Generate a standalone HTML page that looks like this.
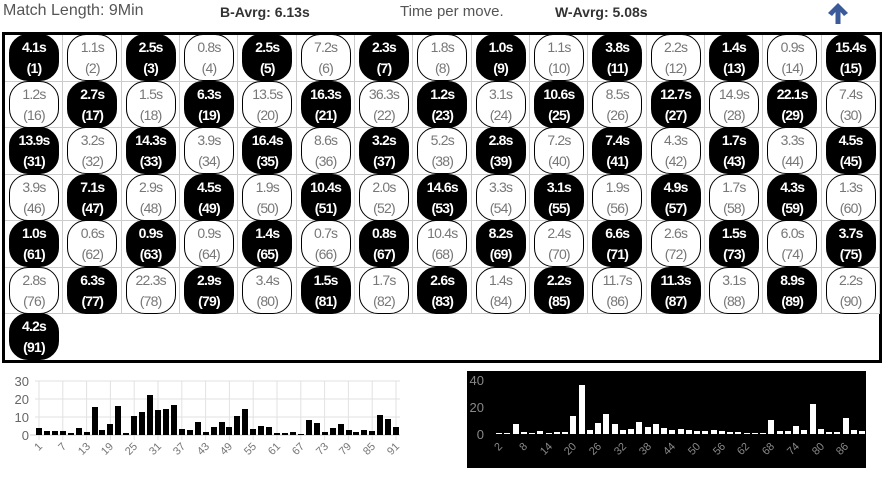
<!DOCTYPE html>
<html><head><meta charset="utf-8">
<style>
*{margin:0;padding:0;box-sizing:border-box}
body{width:888px;height:481px;background:#fff;position:relative;overflow:hidden;font-family:"Liberation Sans",sans-serif}
.h{position:absolute;top:3px;font-size:15px;color:#555;white-space:nowrap}
.hb{font-weight:bold;color:#333;font-size:14px;top:4px}
#box{position:absolute;left:2px;top:32px;width:880px;height:331px;border:3px solid #000}
#g{position:absolute;left:0;top:0;display:grid;grid-template-columns:repeat(15,58.33px);grid-auto-rows:46.5px}
.c{position:relative;border-right:1px solid #ccc;border-bottom:1px solid #ccc}
.c i{position:absolute;left:4px;top:-1px;width:50px;height:47px;border-radius:19px;border:1.3px solid #000;background:#fff;color:#777;font-style:normal;font-size:14px;line-height:21px;text-align:center;padding-top:2px;letter-spacing:-0.8px;z-index:1}
.c.b i{background:#000;color:#fff;font-weight:bold}
.bars{position:absolute;display:flex;align-items:flex-end}
.bars div{flex:1;display:flex;justify-content:center;align-items:flex-end}
.bars div:before{content:"";display:block;width:6px;height:calc(var(--v)*var(--s))}
#lb{left:35px;width:365px;bottom:46px;height:60px;--s:1.8px}
#lb div:before{background:#000}
#rb{left:495px;width:371px;bottom:47px;height:60px;--s:1.35px}
#rb div:before{background:#fff}
</style></head><body>
<div class="h" style="left:3px;font-size:16px;top:2px">Match Length: 9Min</div>
<div class="h hb" style="left:220px">B-Avrg: 6.13s</div>
<div class="h" style="left:400px">Time per move.</div>
<div class="h hb" style="left:555px">W-Avrg: 5.08s</div>
<svg style="position:absolute;left:824px;top:1px" width="28" height="24"><path d="M14 2 L24 12 L20 15 L16.5 11 L16.5 23 L11.5 23 L11.5 11 L8 15 L4 12 Z" fill="#3a5a9a"/></svg>
<div id="box"><div id="g">
<div class="c b"><i>4.1s<br>(1)</i></div><div class="c"><i>1.1s<br>(2)</i></div><div class="c b"><i>2.5s<br>(3)</i></div><div class="c"><i>0.8s<br>(4)</i></div><div class="c b"><i>2.5s<br>(5)</i></div><div class="c"><i>7.2s<br>(6)</i></div><div class="c b"><i>2.3s<br>(7)</i></div><div class="c"><i>1.8s<br>(8)</i></div><div class="c b"><i>1.0s<br>(9)</i></div><div class="c"><i>1.1s<br>(10)</i></div><div class="c b"><i>3.8s<br>(11)</i></div><div class="c"><i>2.2s<br>(12)</i></div><div class="c b"><i>1.4s<br>(13)</i></div><div class="c"><i>0.9s<br>(14)</i></div><div class="c b"><i>15.4s<br>(15)</i></div>
<div class="c"><i>1.2s<br>(16)</i></div><div class="c b"><i>2.7s<br>(17)</i></div><div class="c"><i>1.5s<br>(18)</i></div><div class="c b"><i>6.3s<br>(19)</i></div><div class="c"><i>13.5s<br>(20)</i></div><div class="c b"><i>16.3s<br>(21)</i></div><div class="c"><i>36.3s<br>(22)</i></div><div class="c b"><i>1.2s<br>(23)</i></div><div class="c"><i>3.1s<br>(24)</i></div><div class="c b"><i>10.6s<br>(25)</i></div><div class="c"><i>8.5s<br>(26)</i></div><div class="c b"><i>12.7s<br>(27)</i></div><div class="c"><i>14.9s<br>(28)</i></div><div class="c b"><i>22.1s<br>(29)</i></div><div class="c"><i>7.4s<br>(30)</i></div>
<div class="c b"><i>13.9s<br>(31)</i></div><div class="c"><i>3.2s<br>(32)</i></div><div class="c b"><i>14.3s<br>(33)</i></div><div class="c"><i>3.9s<br>(34)</i></div><div class="c b"><i>16.4s<br>(35)</i></div><div class="c"><i>8.6s<br>(36)</i></div><div class="c b"><i>3.2s<br>(37)</i></div><div class="c"><i>5.2s<br>(38)</i></div><div class="c b"><i>2.8s<br>(39)</i></div><div class="c"><i>7.2s<br>(40)</i></div><div class="c b"><i>7.4s<br>(41)</i></div><div class="c"><i>4.3s<br>(42)</i></div><div class="c b"><i>1.7s<br>(43)</i></div><div class="c"><i>3.3s<br>(44)</i></div><div class="c b"><i>4.5s<br>(45)</i></div>
<div class="c"><i>3.9s<br>(46)</i></div><div class="c b"><i>7.1s<br>(47)</i></div><div class="c"><i>2.9s<br>(48)</i></div><div class="c b"><i>4.5s<br>(49)</i></div><div class="c"><i>1.9s<br>(50)</i></div><div class="c b"><i>10.4s<br>(51)</i></div><div class="c"><i>2.0s<br>(52)</i></div><div class="c b"><i>14.6s<br>(53)</i></div><div class="c"><i>3.3s<br>(54)</i></div><div class="c b"><i>3.1s<br>(55)</i></div><div class="c"><i>1.9s<br>(56)</i></div><div class="c b"><i>4.9s<br>(57)</i></div><div class="c"><i>1.7s<br>(58)</i></div><div class="c b"><i>4.3s<br>(59)</i></div><div class="c"><i>1.3s<br>(60)</i></div>
<div class="c b"><i>1.0s<br>(61)</i></div><div class="c"><i>0.6s<br>(62)</i></div><div class="c b"><i>0.9s<br>(63)</i></div><div class="c"><i>0.9s<br>(64)</i></div><div class="c b"><i>1.4s<br>(65)</i></div><div class="c"><i>0.7s<br>(66)</i></div><div class="c b"><i>0.8s<br>(67)</i></div><div class="c"><i>10.4s<br>(68)</i></div><div class="c b"><i>8.2s<br>(69)</i></div><div class="c"><i>2.4s<br>(70)</i></div><div class="c b"><i>6.6s<br>(71)</i></div><div class="c"><i>2.6s<br>(72)</i></div><div class="c b"><i>1.5s<br>(73)</i></div><div class="c"><i>6.0s<br>(74)</i></div><div class="c b"><i>3.7s<br>(75)</i></div>
<div class="c"><i>2.8s<br>(76)</i></div><div class="c b"><i>6.3s<br>(77)</i></div><div class="c"><i>22.3s<br>(78)</i></div><div class="c b"><i>2.9s<br>(79)</i></div><div class="c"><i>3.4s<br>(80)</i></div><div class="c b"><i>1.5s<br>(81)</i></div><div class="c"><i>1.7s<br>(82)</i></div><div class="c b"><i>2.6s<br>(83)</i></div><div class="c"><i>1.4s<br>(84)</i></div><div class="c b"><i>2.2s<br>(85)</i></div><div class="c"><i>11.7s<br>(86)</i></div><div class="c b"><i>11.3s<br>(87)</i></div><div class="c"><i>3.1s<br>(88)</i></div><div class="c b"><i>8.9s<br>(89)</i></div><div class="c"><i>2.2s<br>(90)</i></div>
<div class="c b" style="border:none"><i>4.2s<br>(91)</i></div>
</div></div>

<svg style="position:absolute;left:0;top:365px" width="888" height="116">
<g stroke="#e2e2e2" stroke-width="1">
<line x1="35" y1="16" x2="400" y2="16"/><line x1="35" y1="34" x2="400" y2="34"/><line x1="35" y1="52" x2="400" y2="52"/>
<line x1="39" y1="16" x2="39" y2="75"/><line x1="62.8" y1="16" x2="62.8" y2="75"/><line x1="86.6" y1="16" x2="86.6" y2="75"/><line x1="110.4" y1="16" x2="110.4" y2="75"/><line x1="134.2" y1="16" x2="134.2" y2="75"/><line x1="158" y1="16" x2="158" y2="75"/><line x1="181.8" y1="16" x2="181.8" y2="75"/><line x1="205.6" y1="16" x2="205.6" y2="75"/><line x1="229.4" y1="16" x2="229.4" y2="75"/><line x1="253.2" y1="16" x2="253.2" y2="75"/><line x1="277" y1="16" x2="277" y2="75"/><line x1="300.8" y1="16" x2="300.8" y2="75"/><line x1="324.6" y1="16" x2="324.6" y2="75"/><line x1="348.4" y1="16" x2="348.4" y2="75"/><line x1="372.2" y1="16" x2="372.2" y2="75"/><line x1="396" y1="16" x2="396" y2="75"/>
</g>
<line x1="30" y1="70" x2="400" y2="70" stroke="#ccc"/>
<g font-size="13" fill="#666" text-anchor="end" font-family="Liberation Sans,sans-serif">
<text x="29" y="21">30</text><text x="29" y="39">20</text><text x="29" y="57">10</text><text x="29" y="75">0</text>
</g>
<g font-size="11" fill="#777" text-anchor="end" font-family="Liberation Sans,sans-serif">
<text transform="translate(43,82) rotate(-45)">1</text><text transform="translate(67,82) rotate(-45)">7</text><text transform="translate(91,82) rotate(-45)">13</text><text transform="translate(114,82) rotate(-45)">19</text><text transform="translate(138,82) rotate(-45)">25</text><text transform="translate(162,82) rotate(-45)">31</text><text transform="translate(186,82) rotate(-45)">37</text><text transform="translate(210,82) rotate(-45)">43</text><text transform="translate(233,82) rotate(-45)">49</text><text transform="translate(257,82) rotate(-45)">55</text><text transform="translate(281,82) rotate(-45)">61</text><text transform="translate(305,82) rotate(-45)">67</text><text transform="translate(329,82) rotate(-45)">73</text><text transform="translate(352,82) rotate(-45)">79</text><text transform="translate(376,82) rotate(-45)">85</text><text transform="translate(400,82) rotate(-45)">91</text>
</g>
<rect x="467" y="6" width="399" height="97" fill="#000"/>
<g font-size="13" fill="#888" text-anchor="end" font-family="Liberation Sans,sans-serif">
<text x="484" y="20">40</text><text x="484" y="47">20</text><text x="484" y="74">0</text>
</g>
<g font-size="11" fill="#888" text-anchor="end" font-family="Liberation Sans,sans-serif">
<text transform="translate(503,82) rotate(-45)">2</text><text transform="translate(528,82) rotate(-45)">8</text><text transform="translate(553,82) rotate(-45)">14</text><text transform="translate(577,82) rotate(-45)">20</text><text transform="translate(602,82) rotate(-45)">26</text><text transform="translate(627,82) rotate(-45)">32</text><text transform="translate(652,82) rotate(-45)">38</text><text transform="translate(676,82) rotate(-45)">44</text><text transform="translate(701,82) rotate(-45)">50</text><text transform="translate(726,82) rotate(-45)">56</text><text transform="translate(750,82) rotate(-45)">62</text><text transform="translate(775,82) rotate(-45)">68</text><text transform="translate(800,82) rotate(-45)">74</text><text transform="translate(825,82) rotate(-45)">80</text><text transform="translate(849,82) rotate(-45)">86</text>
</g>
</svg>

<div class="bars" id="lb">
<div style="--v:4.1"></div><div style="--v:2.5"></div><div style="--v:2.5"></div><div style="--v:2.3"></div><div style="--v:1.0"></div><div style="--v:3.8"></div><div style="--v:1.4"></div><div style="--v:15.4"></div><div style="--v:2.7"></div><div style="--v:6.3"></div><div style="--v:16.3"></div><div style="--v:1.2"></div><div style="--v:10.6"></div><div style="--v:12.7"></div><div style="--v:22.1"></div><div style="--v:13.9"></div><div style="--v:14.3"></div><div style="--v:16.4"></div><div style="--v:3.2"></div><div style="--v:2.8"></div><div style="--v:7.4"></div><div style="--v:1.7"></div><div style="--v:4.5"></div><div style="--v:7.1"></div><div style="--v:4.5"></div><div style="--v:10.4"></div><div style="--v:14.6"></div><div style="--v:3.1"></div><div style="--v:4.9"></div><div style="--v:4.3"></div><div style="--v:1.0"></div><div style="--v:0.9"></div><div style="--v:1.4"></div><div style="--v:0.8"></div><div style="--v:8.2"></div><div style="--v:6.6"></div><div style="--v:1.5"></div><div style="--v:3.7"></div><div style="--v:6.3"></div><div style="--v:2.9"></div><div style="--v:1.5"></div><div style="--v:2.6"></div><div style="--v:2.2"></div><div style="--v:11.3"></div><div style="--v:8.9"></div><div style="--v:4.2"></div>
</div>
<div class="bars" id="rb">
<div style="--v:1.1"></div><div style="--v:0.8"></div><div style="--v:7.2"></div><div style="--v:1.8"></div><div style="--v:1.1"></div><div style="--v:2.2"></div><div style="--v:0.9"></div><div style="--v:1.2"></div><div style="--v:1.5"></div><div style="--v:13.5"></div><div style="--v:36.3"></div><div style="--v:3.1"></div><div style="--v:8.5"></div><div style="--v:14.9"></div><div style="--v:7.4"></div><div style="--v:3.2"></div><div style="--v:3.9"></div><div style="--v:8.6"></div><div style="--v:5.2"></div><div style="--v:7.2"></div><div style="--v:4.3"></div><div style="--v:3.3"></div><div style="--v:3.9"></div><div style="--v:2.9"></div><div style="--v:1.9"></div><div style="--v:2.0"></div><div style="--v:3.3"></div><div style="--v:1.9"></div><div style="--v:1.7"></div><div style="--v:1.3"></div><div style="--v:0.6"></div><div style="--v:0.9"></div><div style="--v:0.7"></div><div style="--v:10.4"></div><div style="--v:2.4"></div><div style="--v:2.6"></div><div style="--v:6.0"></div><div style="--v:2.8"></div><div style="--v:22.3"></div><div style="--v:3.4"></div><div style="--v:1.7"></div><div style="--v:1.4"></div><div style="--v:11.7"></div><div style="--v:3.1"></div><div style="--v:2.2"></div>
</div>
</body></html>
